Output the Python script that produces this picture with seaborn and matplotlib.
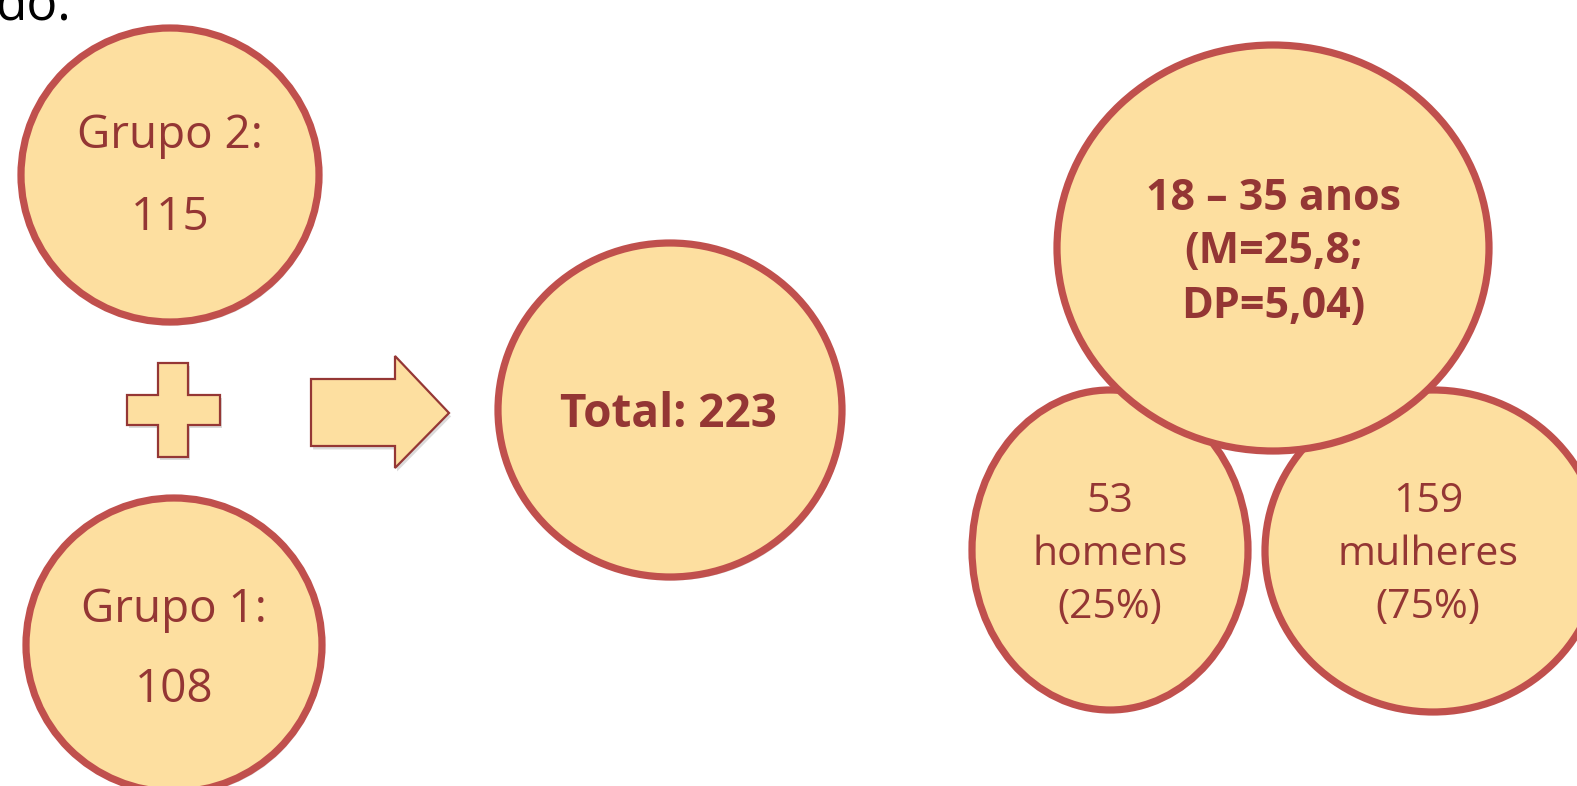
import matplotlib
matplotlib.use("Agg")
import matplotlib.pyplot as plt
import seaborn as sns
from matplotlib.patches import Ellipse, Polygon
import matplotlib.patheffects as pe

# ---- data -------------------------------------------------------------
grupo_labels = ["Grupo 2:", "Grupo 1:"]
grupo_n = [115, 108]
total_label = "Total:"
total_n = 223
idade_min, idade_max = 18, 35
idade_media = "25,8"
idade_dp = "5,04"
sexo_n = [53, 159]
sexo_labels = ["homens", "mulheres"]
sexo_pct = [25, 75]
cabecalho = "do."

# ---- style ------------------------------------------------------------
sns.set_theme(style="white")
plt.rcParams["font.family"] = ["Open Sans", "DejaVu Sans"]

FILL = "#FDDFA0"
EDGE = "#C0504D"
EDGE_DARK = "#953735"
TXT = "#943634"

W, H = 1577, 786
fig = plt.figure(figsize=(W / 100, H / 100), dpi=100)
ax = fig.add_axes([0, 0, 1, 1])
ax.set_xlim(0, W)
ax.set_ylim(H, 0)
ax.axis("off")

shadow = [pe.SimplePatchShadow(offset=(1.5, -2.5), shadow_rgbFace="#999999", alpha=0.35), pe.Normal()]


def circle(cx, cy, rx, ry, z, shade=False):
    e = Ellipse((cx, cy), 2 * rx, 2 * ry, facecolor=FILL, edgecolor=EDGE, lw=5.2, zorder=z)
    if shade:
        e.set_path_effects(shadow)
    ax.add_patch(e)


# group circles
circle(170, 175, 149, 147, 2, True)
circle(174, 645, 148, 147, 2, True)
ax.text(170, 148, grupo_labels[0], ha="center", va="baseline", fontsize=33, color=TXT, zorder=5)
ax.text(170, 230, str(grupo_n[0]), ha="center", va="baseline", fontsize=33, color=TXT, zorder=5)
ax.text(174, 622, grupo_labels[1], ha="center", va="baseline", fontsize=33, color=TXT, zorder=5)
ax.text(174, 702, str(grupo_n[1]), ha="center", va="baseline", fontsize=33, color=TXT, zorder=5)

# plus sign
plus = [(158, 363), (188, 363), (188, 395), (220, 395), (220, 425), (188, 425), (188, 457),
        (158, 457), (158, 425), (127, 425), (127, 395), (158, 395)]
p = Polygon(plus, closed=True, facecolor=FILL, edgecolor=EDGE_DARK, lw=1.6, zorder=2)
p.set_path_effects(shadow)
ax.add_patch(p)

# arrow
arrow = [(311, 379), (395, 379), (395, 356), (449, 413), (395, 468), (395, 446), (311, 446)]
a = Polygon(arrow, closed=True, facecolor=FILL, edgecolor=EDGE_DARK, lw=1.6, zorder=2)
a.set_path_effects(shadow)
ax.add_patch(a)

# total circle
circle(670, 410, 172, 167, 2, True)
ax.text(668, 427, f"{total_label} {total_n}", ha="center", va="baseline", fontsize=33,
        fontweight="bold", color=TXT, zorder=5)

# right cluster: mulheres (bottom) -> homens -> idade (top)
circle(1433, 551, 168, 161, 2)
circle(1110, 550, 138, 160, 3)
circle(1273, 248, 216, 203, 4)

for cx, n, lab, pct in zip([1110, 1428], sexo_n, sexo_labels, sexo_pct):
    ax.text(cx, 512, str(n), ha="center", va="baseline", fontsize=29.5, color=TXT, zorder=6)
    ax.text(cx, 565, lab, ha="center", va="baseline", fontsize=29.5, color=TXT, zorder=6)
    ax.text(cx, 618, f"({pct}%)", ha="center", va="baseline", fontsize=29.5, color=TXT, zorder=6)

ax.text(1273, 210, f"{idade_min} \u2013 {idade_max} anos", ha="center", va="baseline",
        fontsize=31, fontweight="bold", color=TXT, zorder=6)
ax.text(1273, 263, f"(M={idade_media};", ha="center", va="baseline",
        fontsize=31, fontweight="bold", color=TXT, zorder=6)
ax.text(1273, 318, f"DP={idade_dp})", ha="center", va="baseline",
        fontsize=31, fontweight="bold", color=TXT, zorder=6)

# cut-off heading text at top-left (as in the reference)
ax.text(71, 19, cabecalho, ha="right", va="baseline", fontsize=37, color="black", zorder=6)

fig.savefig("out.png", dpi=100, facecolor="white")
